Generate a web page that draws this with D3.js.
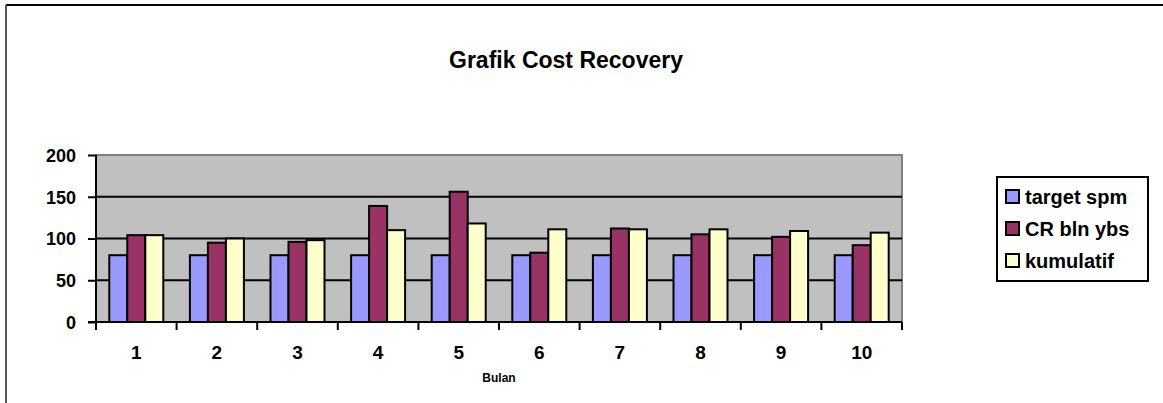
<!doctype html>
<html>
<head>
<meta charset="utf-8">
<script src="https://d3js.org/d3.v7.min.js"></script>
<style>
  body { margin: 0; background: #fff; }
  svg text { font-family: "Liberation Sans", Arial, sans-serif; font-weight: bold; fill: #000; }
</style>
<title>Grafik Cost Recovery</title>
</head>
<body>
<svg width="1163" height="403"></svg>
<script>
var months = ["1", "2", "3", "4", "5", "6", "7", "8", "9", "10"];
var seriesNames = ["target spm", "CR bln ybs", "kumulatif"];
var targetSpm = [80, 80, 80, 80, 80, 80, 80, 80, 80, 80];
var crBlnYbs = [104, 95, 96, 139, 156, 83, 112, 105, 102, 92];
var kumulatif = [104, 100, 98, 110, 118, 111, 111, 111, 109, 107];
var yTicks = [0, 50, 100, 150, 200];
var colors = ["#9999ff", "#993366", "#ffffcc"];

var svg = d3.select("svg");

// outer chart frame (right and bottom edges fall outside the picture)
svg.append("line").attr("x1", 6).attr("x2", 1163).attr("y1", 5).attr("y2", 5)
   .attr("stroke", "#000").attr("stroke-width", 2);
svg.append("line").attr("x1", 6).attr("x2", 6).attr("y1", 5).attr("y2", 403)
   .attr("stroke", "#555").attr("stroke-width", 2);

var plotLeft = 96, plotRight = 902, plotTop = 155, plotBottom = 322;

var x = d3.scaleBand().domain(months).range([plotLeft, plotRight])
          .paddingInner(0.33).paddingOuter(0.165);
var xs = d3.scaleBand().domain(seriesNames).range([0, x.bandwidth()]);
var y = d3.scaleLinear().domain([0, 200]).range([plotBottom, plotTop]);

// plot area
svg.append("rect").attr("x", plotLeft).attr("y", plotTop)
   .attr("width", plotRight - plotLeft).attr("height", plotBottom - plotTop)
   .attr("fill", "#c0c0c0").attr("stroke", "#808080").attr("stroke-width", 2);

// gridlines
svg.append("g").selectAll("line")
   .data(yTicks.filter(function(d) { return d > 0 && d < 200; }))
   .enter().append("line")
   .attr("x1", plotLeft).attr("x2", plotRight)
   .attr("y1", function(d) { return y(d); }).attr("y2", function(d) { return y(d); })
   .attr("stroke", "#000").attr("stroke-width", 2);

// bars
var data = months.map(function(m, i) {
    return { month: m, values: [targetSpm[i], crBlnYbs[i], kumulatif[i]] };
});

var groups = svg.append("g").selectAll("g")
   .data(data).enter().append("g")
   .attr("transform", function(d) { return "translate(" + x(d.month) + ",0)"; });

groups.selectAll("rect")
   .data(function(d) { return d.values.map(function(v, j) { return { name: seriesNames[j], value: v, j: j }; }); })
   .enter().append("rect")
   .attr("x", function(d) { return xs(d.name); })
   .attr("y", function(d) { return y(d.value); })
   .attr("width", xs.bandwidth())
   .attr("height", function(d) { return plotBottom - y(d.value); })
   .attr("fill", function(d) { return colors[d.j]; })
   .attr("stroke", "#000").attr("stroke-width", 2);

// y axis
var yAxis = svg.append("g")
   .attr("transform", "translate(" + plotLeft + ",0)")
   .call(d3.axisLeft(y).tickValues(yTicks).tickSize(8).tickPadding(12));
yAxis.selectAll("path, line").attr("stroke", "#000").attr("stroke-width", 2);
yAxis.select(".domain").attr("d", "M0," + plotTop + "V" + plotBottom);
yAxis.selectAll("text").style("font-size", "18px").attr("dy", "0.36em");

// x axis with ticks at category boundaries
var xAxis = svg.append("g").attr("transform", "translate(0," + plotBottom + ")");
xAxis.append("line").attr("x1", plotLeft - 8).attr("x2", plotRight)
   .attr("stroke", "#000").attr("stroke-width", 2);
xAxis.selectAll(".xtick")
   .data(months.concat(["end"])).enter().append("line")
   .attr("class", "xtick")
   .attr("x1", function(d, i) { return plotLeft + i * x.step(); })
   .attr("x2", function(d, i) { return plotLeft + i * x.step(); })
   .attr("y1", 0).attr("y2", 8)
   .attr("stroke", "#000").attr("stroke-width", 2);
xAxis.selectAll(".xlab")
   .data(months).enter().append("text")
   .attr("class", "xlab")
   .attr("x", function(d) { return x(d) + x.bandwidth() / 2; })
   .attr("y", 37)
   .attr("text-anchor", "middle")
   .style("font-size", "19px")
   .text(function(d) { return d; });

svg.append("text")
   .attr("x", (plotLeft + plotRight) / 2).attr("y", 382)
   .attr("text-anchor", "middle")
   .style("font-size", "12px")
   .text("Bulan");

// title
svg.append("text")
   .attr("x", 566).attr("y", 68)
   .attr("text-anchor", "middle")
   .style("font-size", "23px")
   .text("Grafik Cost Recovery");

// legend
var legend = svg.append("g").attr("transform", "translate(997,177)");
legend.append("rect").attr("width", 151).attr("height", 104)
   .attr("fill", "#fff").attr("stroke", "#000").attr("stroke-width", 2);
var items = legend.selectAll(".item").data(seriesNames).enter().append("g")
   .attr("class", "item")
   .attr("transform", function(d, i) { return "translate(9," + (20 + i * 32) + ")"; });
items.append("rect").attr("x", 0).attr("y", -7).attr("width", 13).attr("height", 13)
   .attr("fill", function(d, i) { return colors[i]; })
   .attr("stroke", "#000").attr("stroke-width", 2);
items.append("text").attr("x", 19).attr("y", 0).attr("dy", "0.36em")
   .style("font-size", "20px")
   .text(function(d) { return d; });
</script>
</body>
</html>
